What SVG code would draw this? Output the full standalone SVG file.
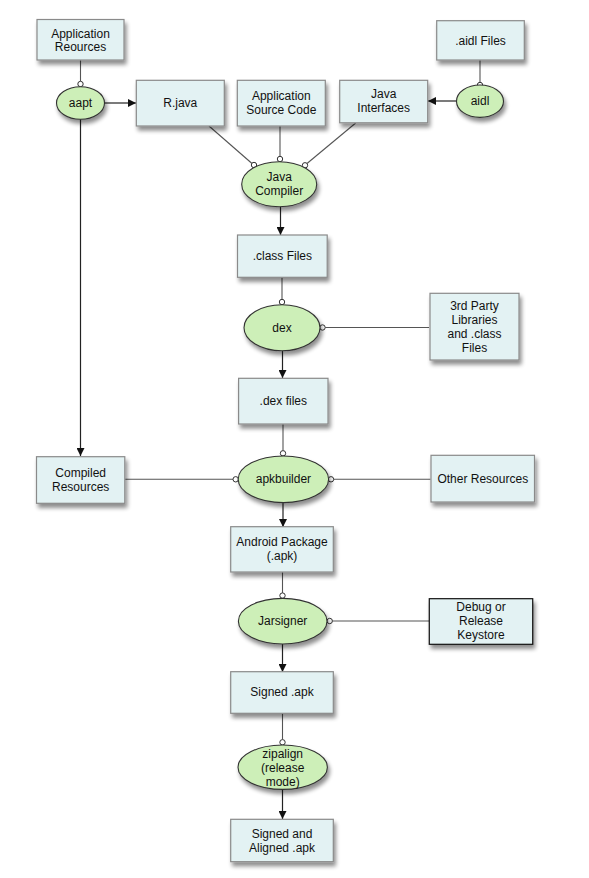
<svg xmlns="http://www.w3.org/2000/svg" width="589" height="878" viewBox="0 0 589 878">
<style>
.box{fill:#e3f2f3;stroke:#8a8a8a;stroke-width:1.2}
.box.dark{stroke:#111}
.ell{fill:#cdefb8;stroke:#333;stroke-width:1.1}
.sh{filter:url(#shadow)}
text{font-family:"Liberation Sans",Arial,sans-serif;font-size:12px;fill:#111;text-anchor:middle}
.ln{stroke:#555;stroke-width:1.1;fill:none}
.ar{stroke:#222;stroke-width:1.2;fill:none;marker-end:url(#arrow)}
.dot{fill:#fff;stroke:#333;stroke-width:1}
</style>
<defs>
<filter id="shadow" x="-20%" y="-20%" width="150%" height="160%">
<feGaussianBlur in="SourceAlpha" stdDeviation="2"/>
<feOffset dx="2" dy="4" result="b"/>
<feComponentTransfer><feFuncA type="linear" slope="0.45"/></feComponentTransfer>
<feMerge><feMergeNode/><feMergeNode in="SourceGraphic"/></feMerge>
</filter>
<marker id="arrow" viewBox="0 0 10 10" refX="10" refY="5" markerWidth="8" markerHeight="8" markerUnits="userSpaceOnUse" orient="auto">
<path d="M0,0 L10,5 L0,10 z" fill="#111"/>
</marker>
</defs>
<rect width="589" height="878" fill="#fff"/>

<g id="connectors">
<line class="ln" x1="80.5" y1="60" x2="80.5" y2="81.5"/>
<line class="ar" x1="104.5" y1="103" x2="136" y2="103"/>
<line class="ar" x1="80.5" y1="119" x2="80.5" y2="456"/>
<line class="ln" x1="209" y1="126" x2="252" y2="163.5"/>
<line class="ln" x1="280" y1="126" x2="280" y2="156.3"/>
<line class="ln" x1="355.7" y1="123" x2="307" y2="163.5"/>
<line class="ln" x1="480" y1="60" x2="480" y2="82.3"/>
<line class="ar" x1="456.5" y1="101" x2="428" y2="101"/>
<line class="ar" x1="280.5" y1="207" x2="280.5" y2="235"/>
<line class="ln" x1="282" y1="277" x2="282" y2="299.3"/>
<line class="ln" x1="325.2" y1="327.5" x2="429" y2="327.5"/>
<line class="ar" x1="282.5" y1="350.7" x2="282.5" y2="378"/>
<line class="ln" x1="283" y1="424" x2="283" y2="450.6"/>
<line class="ar" x1="283" y1="502.7" x2="283" y2="527"/>
<line class="ln" x1="124.8" y1="479.3" x2="233" y2="479.3"/>
<line class="ln" x1="333.7" y1="479.3" x2="430.5" y2="479.3"/>
<line class="ln" x1="282.5" y1="572" x2="282.5" y2="592.9"/>
<line class="ln" x1="332.4" y1="621" x2="429.3" y2="621"/>
<line class="ar" x1="282.5" y1="644" x2="282.5" y2="672"/>
<line class="ln" x1="282.5" y1="713" x2="282.5" y2="739.6"/>
<line class="ar" x1="282.5" y1="789.3" x2="282.5" y2="819"/>
<circle class="dot" cx="80.5" cy="84" r="2.7"/>
<circle class="dot" cx="254" cy="165" r="2.7"/>
<circle class="dot" cx="280" cy="159" r="2.7"/>
<circle class="dot" cx="305" cy="165.3" r="2.7"/>
<circle class="dot" cx="480" cy="85" r="2.7"/>
<circle class="dot" cx="282" cy="302" r="2.7"/>
<circle class="dot" cx="322.5" cy="327.5" r="2.7"/>
<circle class="dot" cx="283" cy="453.3" r="2.7"/>
<circle class="dot" cx="235.7" cy="479.3" r="2.7"/>
<circle class="dot" cx="331" cy="479.3" r="2.7"/>
<circle class="dot" cx="282.5" cy="595.6" r="2.7"/>
<circle class="dot" cx="329.7" cy="621" r="2.7"/>
<circle class="dot" cx="282.5" cy="742.3" r="2.7"/>
</g>

<g id="app-resources"><rect class="box sh" x="37" y="19.5" width="87" height="40.5"/><text x="80.5" y="37.5">Application</text><text x="80.5" y="50.5">Reources</text></g>
<g id="aapt"><ellipse class="ell sh" cx="80.5" cy="103" rx="24" ry="16.3"/><text x="80.5" y="107">aapt</text></g>
<g id="r-java"><rect class="box sh" x="136.3" y="80.3" width="88" height="45.7"/><text x="180.3" y="107">R.java</text></g>
<g id="app-source"><rect class="box sh" x="237.3" y="80.3" width="88" height="45.7"/><text x="281.3" y="100">Application</text><text x="281.3" y="113.5">Source Code</text></g>
<g id="java-interfaces"><rect class="box sh" x="339.7" y="80.3" width="88" height="42.5"/><text x="383.7" y="97.5">Java</text><text x="383.7" y="111.5">Interfaces</text></g>
<g id="aidl-files"><rect class="box sh" x="436.7" y="20.7" width="87.6" height="39.3"/><text x="480.5" y="45">.aidl Files</text></g>
<g id="aidl"><ellipse class="ell sh" cx="480" cy="101.2" rx="23.5" ry="16.2"/><text x="480" y="105.3">aidl</text></g>
<g id="java-compiler"><ellipse class="ell sh" cx="279.2" cy="184.2" rx="37.5" ry="22.5"/><text x="279.2" y="181">Java</text><text x="279.2" y="195">Compiler</text></g>
<g id="class-files"><rect class="box sh" x="237.5" y="235" width="89.7" height="42.3"/><text x="282.3" y="260.3">.class Files</text></g>
<g id="dex"><ellipse class="ell sh" cx="282" cy="327.7" rx="38" ry="23"/><text x="282" y="332">dex</text></g>
<g id="third-party"><rect class="box sh" x="430" y="293.3" width="89" height="66.7"/><text x="474.5" y="310.2">3rd Party</text><text x="474.5" y="324">Libraries</text><text x="474.5" y="338">and .class</text><text x="474.5" y="352">Files</text></g>
<g id="dex-files"><rect class="box sh" x="238.6" y="378.3" width="89.4" height="45.7"/><text x="283.3" y="405.3">.dex files</text></g>
<g id="compiled-resources"><rect class="box sh" x="36.5" y="456.7" width="88.3" height="46.6"/><text x="80.7" y="477">Compiled</text><text x="80.7" y="491">Resources</text></g>
<g id="apkbuilder"><ellipse class="ell sh" cx="283.4" cy="479.3" rx="45.2" ry="23.3"/><text x="283.4" y="483.3">apkbuilder</text></g>
<g id="other-resources"><rect class="box sh" x="431" y="455.3" width="103.5" height="46.7"/><text x="482.8" y="483.3">Other Resources</text></g>
<g id="android-package"><rect class="box sh" x="230.7" y="526.7" width="102.6" height="45.3"/><text x="282" y="546">Android Package</text><text x="282" y="560.3">(.apk)</text></g>
<g id="jarsigner"><ellipse class="ell sh" cx="282.7" cy="621.2" rx="44.3" ry="22.8"/><text x="282.7" y="625.2">Jarsigner</text></g>
<g id="keystore"><rect class="box dark sh" x="429.3" y="598.7" width="103.4" height="45.6"/><text x="481" y="611">Debug or</text><text x="481" y="625">Release</text><text x="481" y="639">Keystore</text></g>
<g id="signed-apk"><rect class="box sh" x="230.7" y="671.7" width="102.6" height="41.6"/><text x="282" y="696">Signed .apk</text></g>
<g id="zipalign"><ellipse class="ell sh" cx="282.7" cy="767.2" rx="44.7" ry="22.2"/><text x="282.7" y="757.5">zipalign</text><text x="282.7" y="771.5">(release</text><text x="282.7" y="785.5">mode)</text></g>
<g id="signed-aligned"><rect class="box sh" x="230.7" y="819.3" width="102.6" height="42.4"/><text x="282" y="838.3">Signed and</text><text x="282" y="852.3">Aligned .apk</text></g>
</svg>
